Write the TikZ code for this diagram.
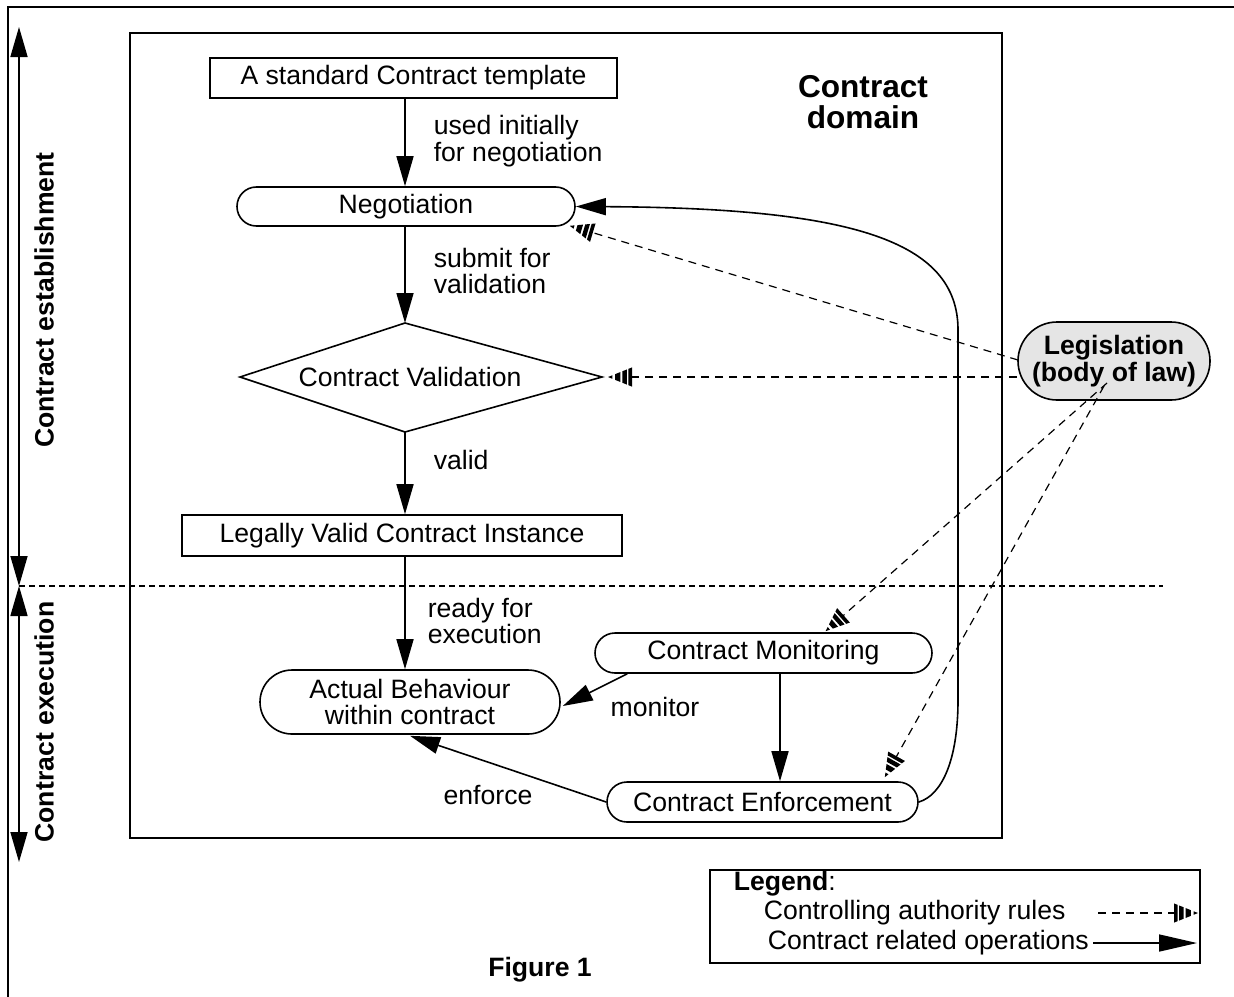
\documentclass[tikz,border=0pt]{standalone}
\usepackage{fontspec}
\setmainfont{Liberation Sans}
\usetikzlibrary{arrows.meta,calc}
\pgfdeclarearrow{
  name = Striped,
  setup code = {
    \pgfarrowssettipend{0pt}
    \pgfarrowssetlineend{-11.5pt}
    \pgfarrowssetbackend{-12pt}
    \pgfarrowshullpoint{0pt}{0pt}
    \pgfarrowsupperhullpoint{-12pt}{4.8pt}
  },
  drawing code = {
    \pgfpathmoveto{\pgfqpoint{0pt}{0pt}}
    \pgfpathlineto{\pgfqpoint{-2.2pt}{0.88pt}}
    \pgfpathlineto{\pgfqpoint{-2.2pt}{-0.88pt}}
    \pgfpathclose
    \pgfpathmoveto{\pgfqpoint{-3.6pt}{1.44pt}}
    \pgfpathlineto{\pgfqpoint{-6.2pt}{2.48pt}}
    \pgfpathlineto{\pgfqpoint{-6.2pt}{-2.48pt}}
    \pgfpathlineto{\pgfqpoint{-3.6pt}{-1.44pt}}
    \pgfpathclose
    \pgfpathmoveto{\pgfqpoint{-7.2pt}{2.88pt}}
    \pgfpathlineto{\pgfqpoint{-9.4pt}{3.76pt}}
    \pgfpathlineto{\pgfqpoint{-9.4pt}{-3.76pt}}
    \pgfpathlineto{\pgfqpoint{-7.2pt}{-2.88pt}}
    \pgfpathclose
    \pgfpathmoveto{\pgfqpoint{-10.2pt}{4.08pt}}
    \pgfpathlineto{\pgfqpoint{-12pt}{4.8pt}}
    \pgfpathlineto{\pgfqpoint{-12pt}{-4.8pt}}
    \pgfpathlineto{\pgfqpoint{-10.2pt}{-4.08pt}}
    \pgfpathclose
    \pgfusepathqfill
  }
}
\newcommand\normsz{\fontsize{13.3}{13.3}\selectfont}
\newcommand\bigsz{\fontsize{15.8}{15.5}\selectfont\bfseries}
\begin{document}
\begin{tikzpicture}[x=0.5pt,y=-0.5pt,line width=0.8pt,
  box/.style={draw, rectangle, inner sep=0pt, font=\normsz, align=center},
  pill/.style={box, rounded corners=#1},
  lbl/.style={font=\normsz, align=left, inner sep=0pt},
  oparrow/.style={-{Triangle[length=15pt,width=8.5pt]}},
  authline/.style={dash pattern=on 4pt off 3pt, line width=0.6pt, -{Striped}},
  sideline/.style={{Triangle[length=15pt,width=8.5pt]}-{Triangle[length=15pt,width=8.5pt]}}]
\useasboundingbox (0,0) rectangle (1234,996);

% outer frame
\coordinate (ftl) at (8,7);
\coordinate (ftr) at (1240,7);
\coordinate (fbl) at (8,1000);
\draw[line width=0.7pt] (ftr) -- (ftl) -- (fbl);

% left phase arrows
\coordinate (ltop) at (19,27);
\coordinate (lmid) at (19,586);
\coordinate (lbot) at (19,862);
\coordinate (sepend) at (1163,586);
\draw[sideline] (ltop) -- (lmid);
\draw[sideline] (lmid) -- (lbot);
\draw[dash pattern=on 3pt off 2pt, line width=0.6pt] (lmid) -- (sepend);
\node[font=\normsz\bfseries, rotate=90] (estab) at (44,300) {Contract establishment};
\node[font=\normsz\bfseries, rotate=90] (exec) at (44,722) {Contract execution};

% contract domain
\node[draw, rectangle, minimum width=436pt, minimum height=402.5pt, inner sep=0pt] (dom) at (566,435.5) {};
\node[font=\bigsz, align=center, inner sep=0pt] (domlbl) at (863,102) {Contract\\domain};

% nodes
\coordinate (ax) at (405,0);
\node[box, minimum width=203.5pt, minimum height=20pt] (tmpl) at (413.5,78) {A standard Contract template};
\node[pill=9.7pt, minimum width=169pt, minimum height=19.5pt] (neg) at (406,206.5) {Negotiation};
\coordinate (vt) at (405,323);
\coordinate (vl) at (240,377);
\coordinate (vr) at (602,377);
\coordinate (vb) at (405,432);
\draw (vt) -- (vr) -- (vb) -- (vl) -- cycle;
\node[font=\normsz] (val) at (410,377) {Contract Validation};
\node[box, minimum width=220pt, minimum height=20.5pt] (inst) at (402,535.5) {Legally Valid Contract Instance};
\node[pill=16pt, minimum width=150pt, minimum height=32pt] (act) at (410,702) {Actual Behaviour\\[-0.1pt]within contract};
\node[pill=10pt, minimum width=168.5pt, minimum height=20pt] (mon) at (763.5,653) {Contract Monitoring};
\node[pill=10pt, minimum width=155.5pt, minimum height=20pt] (enf) at (762.5,802) {Contract Enforcement};
\node[pill=19.5pt, minimum width=96pt, minimum height=39pt, fill=black!10, font=\fontsize{13.3}{12}\selectfont\bfseries] (leg) at (1114,361) {Legislation\\(body of law)};

% operation arrows
\draw[oparrow] (tmpl.south -| ax) -- (neg.north -| ax);
\draw[oparrow] (neg.south -| ax) -- (vt);
\draw[oparrow] (vb) -- (inst.north -| ax);
\draw[oparrow] (inst.south -| ax) -- (act.north -| ax);
\coordinate (mx) at (780,0);
\draw[oparrow] (mon.south -| mx) -- (enf.north -| mx);
\draw[oparrow] ($(mon.south west)+(33,0)$) -- ($(act.east)+(2,4)$);
\draw[oparrow] (enf.west) -- ($(act.south)+(0,1)$);
\draw[oparrow] (enf.east) .. controls (942,795) and (958,760) .. (958,700) -- (958,330) .. controls (958,240) and (850,208) .. (neg.east);

% labels
\node[lbl, anchor=west] (l1) at (433,141) {used initially\\for negotiation};
\node[lbl, anchor=west] (l2) at (433,271) {submit for\\validation};
\node[lbl, anchor=west] (l3) at (433,460) {valid};
\node[lbl, anchor=west] (l4) at (427,621) {ready for\\execution};
\node[lbl] (l5) at (655,707) {monitor};
\node[lbl] (l6) at (488,795) {enforce};

% authority rules
\draw[authline] (1018,360) -- ($(neg.south east)+(-6,-1)$);
\draw[authline] (leg.west |- vr) -- ($(vr)+(6,0)$);
\draw[authline] ($(leg.center)+(-7,22)$) -- ($(mon.north)+(62,-1)$);
\draw[authline] ($(leg.center)+(-10,25)$) -- ($(enf.north east)+(-34,-4)$);

% legend
\node[draw, rectangle, minimum width=245pt, minimum height=46.5pt, inner sep=0pt] (legend) at (955,916.5) {};
\node[lbl, anchor=west] (lg1) at (733,884) {\textbf{Legend}:};
\node[lbl, anchor=west] (lg2) at (763,913) {Controlling authority rules};
\node[lbl, anchor=west] (lg3) at (767,943) {Contract related operations};
\coordinate (la1) at (1098,913);
\coordinate (la2) at (1198,913);
\coordinate (lb1) at (1093,943);
\coordinate (lb2) at (1197,943);
\draw[authline] (la1) -- (la2);
\draw[-{Triangle[length=19pt,width=8.5pt]}] (lb1) -- (lb2);

\node[font=\normsz\bfseries] (fig) at (540,970) {Figure 1};
\end{tikzpicture}
\end{document}
